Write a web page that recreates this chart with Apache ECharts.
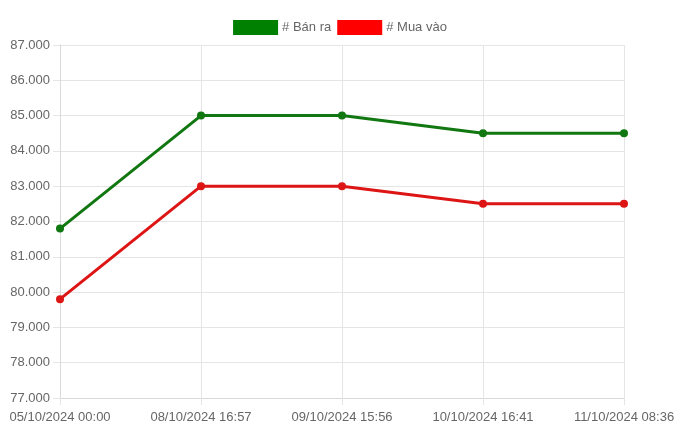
<!DOCTYPE html>
<html><head><meta charset="utf-8">
<script src="https://cdn.jsdelivr.net/npm/echarts@6/dist/echarts.min.js"></script>
<style>html,body{margin:0;padding:0;background:#fff}#c{width:680px;height:430px}</style>
</head><body><div id="c"></div>
<script>
var categories = ["05/10/2024 00:00","08/10/2024 16:57","09/10/2024 15:56","10/10/2024 16:41","11/10/2024 08:36"];
var banRa = [81800, 85000, 85000, 84500, 84500];
var muaVao = [79800, 83000, 83000, 82500, 82500];
var seriesNames = ["# Bán ra", "# Mua vào"];

var chart = echarts.init(document.getElementById('c'), null, {renderer:'canvas'});
var font = '"Liberation Sans", Arial, sans-serif';
chart.setOption({
  animation:false,
  legend:{
    top:20, left:'center', padding:0, itemWidth:45, itemHeight:15, itemGap:6,
    textStyle:{color:'#666', fontSize:13, fontFamily:font, padding:[0,0,0,-1]},
    icon:'rect',
    data:[
      {name:seriesNames[0], itemStyle:{color:'#008000'}},
      {name:seriesNames[1], itemStyle:{color:'#ff0000'}}
    ]
  },
  grid:{left:60, right:56, top:45, bottom:32},
  xAxis:{
    type:'category', data:categories, boundaryGap:false,
    axisLine:{lineStyle:{color:'#d9d9d9'}},
    axisTick:{show:true, length:7, lineStyle:{color:'#e5e5e5'}},
    axisLabel:{color:'#666', fontSize:13, fontFamily:font, margin:13, interval:0},
    splitLine:{show:true, lineStyle:{color:'#e5e5e5'}}
  },
  yAxis:{
    type:'value', min:77000, max:87000, interval:1000,
    axisLine:{show:true, lineStyle:{color:'#d9d9d9'}},
    axisTick:{show:true, length:7, lineStyle:{color:'#e5e5e5'}},
    axisLabel:{color:'#666', fontSize:13, fontFamily:font, margin:10,
      formatter:function(v){return v.toLocaleString('de-DE',{minimumFractionDigits:0});}},
    splitLine:{show:true, lineStyle:{color:'#e5e5e5'}}
  },
  series:[
    {name:seriesNames[0], type:'line', data:banRa, symbol:'circle', symbolSize:8,
     lineStyle:{color:'#117711', width:3}, itemStyle:{color:'#117711'}},
    {name:seriesNames[1], type:'line', data:muaVao, symbol:'circle', symbolSize:8,
     lineStyle:{color:'#dd1515', width:3}, itemStyle:{color:'#dd1515'}}
  ]
});
</script></body></html>
